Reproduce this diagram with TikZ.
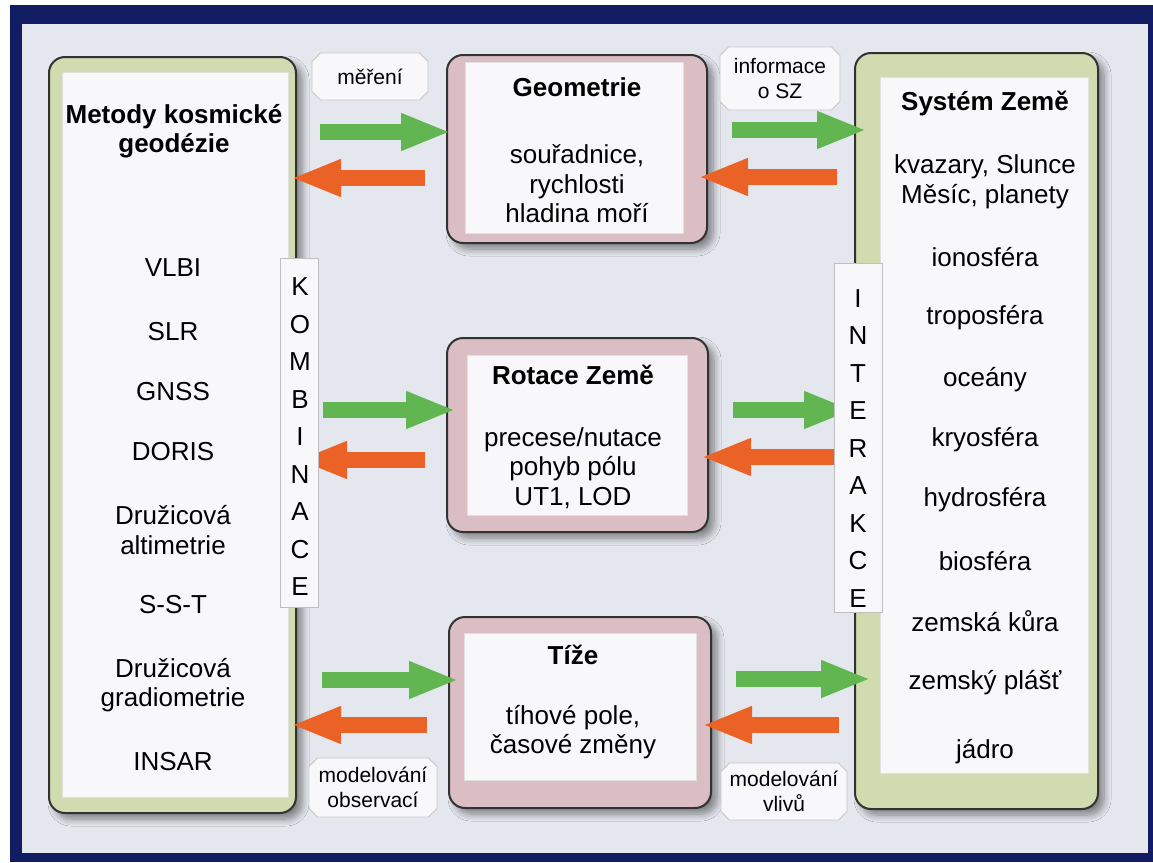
\documentclass[tikz,border=0pt]{standalone}
\usepackage{fontspec}
\setmainfont{Liberation Sans}
\usetikzlibrary{arrows.meta,shapes.misc,shadows.blur}

\definecolor{navy}{RGB}{18,28,98}
\definecolor{panelbg}{RGB}{229,231,238}
\definecolor{paper}{RGB}{248,248,250}
\definecolor{framegreen}{RGB}{208,219,176}
\definecolor{framepink}{RGB}{219,190,196}
\definecolor{edge}{RGB}{50,50,50}
\definecolor{arrgreen}{RGB}{98,182,82}
\definecolor{arrorange}{RGB}{234,98,38}

\tikzset{
  frame/.style={draw=edge, line width=2pt, rounded corners=16pt, inner sep=0pt,
    blur shadow={shadow xshift=6pt, shadow yshift=-6pt, shadow blur radius=7pt,
      shadow blur steps=8, shadow opacity=45}},
  greenframe/.style={frame, fill=framegreen},
  pinkframe/.style={frame, fill=framepink},
  panel/.style={chamfered rectangle, chamfered rectangle xsep=7pt, fill=paper,
    draw=black!12, line width=0.6pt, inner sep=0pt},
  tag/.style={chamfered rectangle, chamfered rectangle xsep=5pt, fill=paper,
    draw=black!22, line width=0.8pt, inner sep=0pt, align=center,
    font=\fontsize{21}{24.5}\selectfont},
  strip/.style={rectangle, fill=paper, draw=black!25, line width=0.6pt, inner sep=0pt},
  letters/.style={align=center, inner sep=0pt, font=\fontsize{26}{37.5}\selectfont},
  txt/.style={align=center, inner sep=0pt, font=\fontsize{26}{29.5}\selectfont},
  ttl/.style={align=center, inner sep=0pt, font=\fontsize{26}{28.5}\selectfont\bfseries},
  garrow/.style={draw=arrgreen, line width=16pt, -{Triangle[width=34pt,length=50pt]}},
  oarrow/.style={draw=arrorange, line width=16pt, -{Triangle[width=34pt,length=50pt]}}
}

\begin{document}
\begin{tikzpicture}[x=1pt,y=-1pt]
\useasboundingbox (0,0) rectangle (1153,862);

% page background and navy border
\fill[white] (0,0) rectangle (1153,862);
\fill[navy] (10,5) rectangle (1153,862);
\fill[panelbg] (22,24) rectangle (1148,853);

% outer frames
\node[greenframe, minimum width=247pt, minimum height=756pt] (metframe) at (172.5,435) {};
\node[greenframe, minimum width=243pt, minimum height=756pt] (szframe) at (976.5,431) {};
\node[pinkframe, minimum width=260pt, minimum height=188pt] (geoframe) at (577,149) {};
\node[pinkframe, minimum width=261pt, minimum height=194pt] (rotframe) at (577.5,435) {};
\node[pinkframe, minimum width=262pt, minimum height=191pt] (tizframe) at (580,712.5) {};

% paper panels inside the frames
\node[panel, minimum width=226pt, minimum height=725pt] (metpanel) at (175,434.5) {};
\node[panel, minimum width=208pt, minimum height=696pt] (szpanel) at (984,425) {};
\node[panel, minimum width=218pt, minimum height=171pt] (geopanel) at (574,147.5) {};
\node[panel, minimum width=220pt, minimum height=160pt] (rotpanel) at (577,435) {};
\node[panel, minimum width=232pt, minimum height=147pt] (tizpanel) at (580,706.5) {};

% space geodesy methods
\node[ttl] (metttl) at (174,131) {Metody kosmické\\geodézie};
\node[txt] (vlbi) at (173,268) {VLBI};
\node[txt] (slr) at (173,332) {SLR};
\node[txt] (gnss) at (173,392) {GNSS};
\node[txt] (doris) at (173,452) {DORIS};
\node[txt] (alti) at (173,530) {Družicová\\altimetrie};
\node[txt] (sst) at (173,605) {S-S-T};
\node[txt] (grad) at (173,685) {Družicová\\gradiometrie};
\node[txt] (insar) at (173,762) {INSAR};

% Earth system
\node[ttl] (szttl) at (985,103) {Systém Země};
\node[txt] (kvaz) at (985,182) {kvazary, Slunce\\Měsíc, planety};
\node[txt] (iono) at (985,257) {ionosféra};
\node[txt] (tropo) at (985,318) {troposféra};
\node[txt] (ocean) at (985,380) {oceány};
\node[txt] (kryo) at (985,440) {kryosféra};
\node[txt] (hydro) at (985,500) {hydrosféra};
\node[txt] (bio) at (985,561) {biosféra};
\node[txt] (kura) at (985,621) {zemská kůra};
\node[txt] (plast) at (985,683) {zemský plášť};
\node[txt] (jadro) at (985,752) {jádro};

% the three pillars
\node[ttl] (geottl) at (577,87) {Geometrie};
\node[txt] (geotxt) at (577,184) {souřadnice,\\rychlosti\\hladina moří};
\node[ttl] (rotttl) at (573,375) {Rotace Země};
\node[txt] (rottxt) at (573,468) {precese/nutace\\pohyb pólu\\UT1, LOD};
\node[ttl] (tizttl) at (573,655) {Tíže};
\node[txt] (tiztxt) at (573,732) {tíhové pole,\\časové změny};

% free ends of the flow arrows
\coordinate (g1a) at (320,132);
\coordinate (o1a) at (425,178);
\coordinate (g1b) at (732,130);
\coordinate (o1b) at (837,177);
\coordinate (g2a) at (323,410);
\coordinate (o2a) at (425,460);
\coordinate (g2b) at (733,410);
\coordinate (o2b) at (838,457);
\coordinate (g3a) at (322,680);
\coordinate (o3a) at (427,725);
\coordinate (g3b) at (736,679);
\coordinate (o3b) at (839,725);

% flow arrows
\draw[garrow, shorten >=-5pt] (g1a) -- (geoframe.west |- g1a);
\draw[oarrow, shorten >=-6pt] (o1a) -- (metframe.east |- o1a);
\draw[garrow, shorten >=-13pt] (g1b) -- (szframe.west |- g1b);
\draw[oarrow, shorten >=-10pt] (o1b) -- (geoframe.east |- o1b);

\draw[garrow, shorten >=-10pt] (g2a) -- (rotframe.west |- g2a);
\draw[oarrow] (o2a) -- (metframe.east |- o2a);
\draw[garrow] (g2b) -- (szframe.west |- g2b);
\draw[oarrow, shorten >=-8pt] (o2b) -- (rotframe.east |- o2b);

\draw[garrow, shorten >=-11pt] (g3a) -- (tizframe.west |- g3a);
\draw[oarrow, shorten >=-6pt] (o3a) -- (metframe.east |- o3a);
\draw[garrow, shorten >=-17pt] (g3b) -- (szframe.west |- g3b);
\draw[oarrow, shorten >=-10pt] (o3b) -- (tizframe.east |- o3b);

% vertical strips
\node[strip, minimum width=38pt, minimum height=349pt] (kombstrip) at (299,432.5) {};
\node[letters] (komb) at (300,437) {K\\O\\M\\B\\I\\N\\A\\C\\E};
\node[strip, minimum width=48pt, minimum height=349pt] (intstrip) at (858,437.5) {};
\node[letters] (inter) at (858,448.5) {I\\N\\T\\E\\R\\A\\K\\C\\E};

% small labels
\node[tag, minimum width=116pt, minimum height=47pt] (mereni) at (370,76.5) {měření};
\node[tag, minimum width=120pt, minimum height=63pt] (info) at (780,78.5) {informace\\o SZ};
\node[tag, minimum width=128pt, minimum height=59pt] (modobs) at (373,787.5) {modelování\\observací};
\node[tag, minimum width=126pt, minimum height=57pt] (modvliv) at (784,791.5) {modelování\\vlivů};
\end{tikzpicture}
\end{document}
